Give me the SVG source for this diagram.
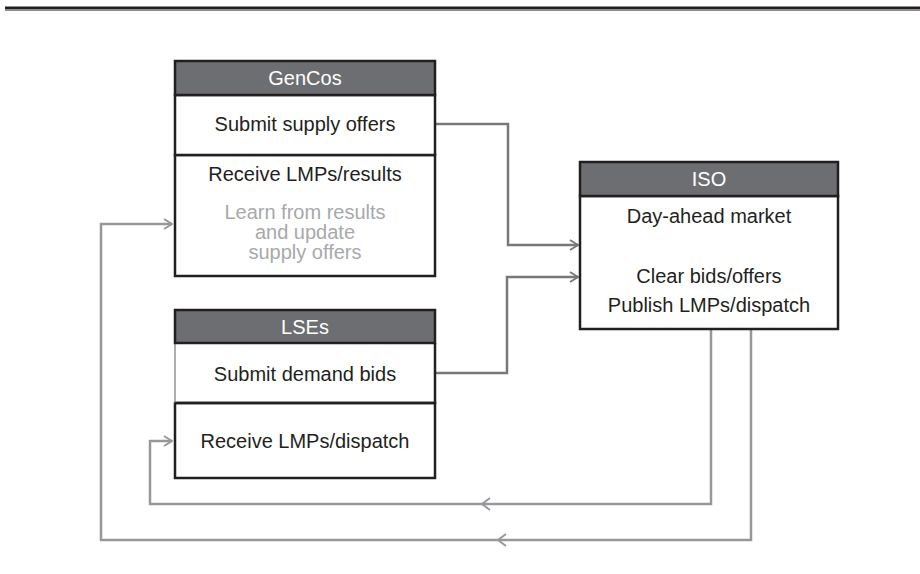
<svg xmlns="http://www.w3.org/2000/svg" width="920" height="574" viewBox="0 0 920 574">
<defs>
<style>
.hdr{fill:#6d6e71;stroke:#231f20;stroke-width:2.5}
.box{fill:#fff;stroke:#231f20;stroke-width:2.5}
.t{font-family:"Liberation Sans",Arial,sans-serif;font-size:20px;fill:#231f20;text-anchor:middle}
.th{fill:#fff}
.tg{fill:#a7a9ac}
.c1{fill:none;stroke:#77787b;stroke-width:2.5}
.c2{fill:none;stroke:#97989b;stroke-width:2.5}
</style>
<marker id="a1" markerWidth="10" markerHeight="12" refX="9" refY="6" orient="auto" markerUnits="userSpaceOnUse">
<path d="M1,1 L9,6 L1,11" fill="none" stroke="#77787b" stroke-width="2"/>
</marker>
<marker id="a2" markerWidth="10" markerHeight="12" refX="9" refY="6" orient="auto" markerUnits="userSpaceOnUse">
<path d="M1,1 L9,6 L1,11" fill="none" stroke="#97989b" stroke-width="2"/>
</marker>
</defs>
<rect width="920" height="574" fill="#fff"/>
<line x1="5" y1="8" x2="920" y2="8" stroke="#231f20" stroke-width="3"/>
<line x1="5" y1="10.5" x2="920" y2="10.5" stroke="#8a8a8a" stroke-width="1"/>

<g id="connectors">
<path class="c1" d="M435,124 H508 V245 H578" marker-end="url(#a1)"/>
<path class="c1" d="M435,373 H507 V277 H578" marker-end="url(#a1)"/>
<path class="c2" d="M711,329 V504 H150 V441 H172" marker-end="url(#a2)"/>
<path class="c2" d="M751,329 V540 H101 V224 H172" marker-end="url(#a2)"/>
<path d="M490,498 L482,504 L490,510" fill="none" stroke="#97989b" stroke-width="2"/>
<path d="M506,534 L498,540 L506,546" fill="none" stroke="#97989b" stroke-width="2"/>
</g>

<g id="gencos">
<rect class="box" x="175" y="155" width="260" height="121"/>
<rect class="box" x="175" y="95" width="260" height="60"/>
<rect class="hdr" x="175" y="61" width="260" height="34"/>
<text class="t th" x="305" y="85">GenCos</text>
<text class="t" x="305" y="131">Submit supply offers</text>
<text class="t" x="305" y="181">Receive LMPs/results</text>
<text class="t tg" x="305" y="219">Learn from results</text>
<text class="t tg" x="305" y="239">and update</text>
<text class="t tg" x="305" y="259">supply offers</text>
</g>

<g id="lses">
<rect class="box" x="175" y="403" width="260" height="75"/>
<path d="M175,343 V403" stroke="#939598" stroke-width="1.5" fill="none"/>
<path d="M175,343 M175,403 H435 V343" stroke="#231f20" stroke-width="2.5" fill="none"/>
<rect class="hdr" x="175" y="310" width="260" height="33"/>
<text class="t th" x="305" y="334">LSEs</text>
<text class="t" x="305" y="381">Submit demand bids</text>
<text class="t" x="305" y="448">Receive LMPs/dispatch</text>
</g>

<g id="iso">
<rect class="box" x="580" y="196" width="258" height="133"/>
<rect class="hdr" x="580" y="162" width="258" height="34"/>
<text class="t th" x="709" y="186">ISO</text>
<text class="t" x="709" y="223">Day-ahead market</text>
<text class="t" x="709" y="283">Clear bids/offers</text>
<text class="t" x="709" y="312">Publish LMPs/dispatch</text>
</g>
</svg>
